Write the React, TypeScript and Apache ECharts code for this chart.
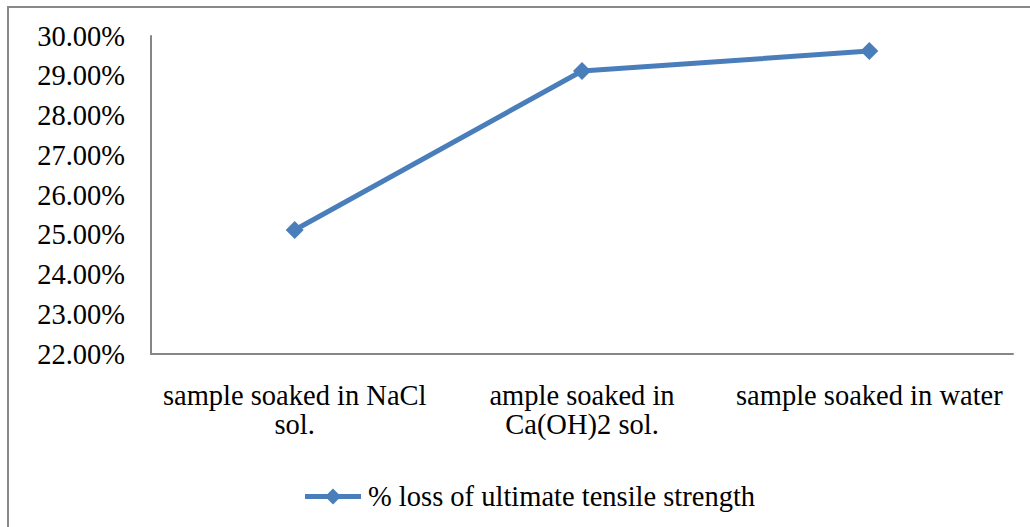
import React, { useEffect, useRef } from "react";
import * as echarts from "echarts";

const categories = [
  "sample soaked in NaCl\nsol.",
  "ample soaked in\nCa(OH)2 sol.",
  "sample soaked in water",
];
const seriesName = "% loss of ultimate tensile strength";
const values = [25.12, 29.12, 29.62];
const yMin = 22;
const yMax = 30;
const yStep = 1;

const FONT = "'Liberation Serif', 'Times New Roman', serif";
const FS = 28.5;
const LEGEND_ICON =
  "path://M0,5.5 L22.5,5.5 L28,0 L33.5,5.5 L56,5.5 L56,10.5 L33.5,10.5 L28,16 L22.5,10.5 L0,10.5 Z";

export default function App() {
  const ref = useRef<HTMLDivElement>(null);
  useEffect(() => {
    document.body.style.margin = "0";
    const chart = echarts.init(ref.current!, undefined, { renderer: "svg" });
    chart.setOption({
      animation: false,
      backgroundColor: "#ffffff",
      textStyle: { fontFamily: FONT },
      graphic: [
        {
          type: "rect",
          shape: { x: 8, y: 7, width: 1100, height: 600 },
          style: { fill: "none", stroke: "#898989", lineWidth: 2 },
          silent: true,
        },
      ],
      grid: { left: 151, right: 17, top: 36, bottom: 173, containLabel: false },
      xAxis: {
        type: "category",
        data: categories,
        boundaryGap: true,
        axisLine: { show: true, lineStyle: { color: "#868686", width: 2 } },
        axisTick: { show: false },
        axisLabel: {
          interval: 0,
          color: "#000",
          fontFamily: FONT,
          fontSize: FS,
          lineHeight: 29,
          margin: 27,
          align: "center",
        },
        splitLine: { show: false },
      },
      yAxis: {
        type: "value",
        min: yMin,
        max: yMax,
        interval: yStep,
        axisLine: { show: true, lineStyle: { color: "#868686", width: 2 } },
        axisTick: { show: false },
        splitLine: { show: false },
        axisLabel: {
          color: "#000",
          fontFamily: FONT,
          fontSize: FS,
          margin: 26,
          formatter: (v: number) => v.toFixed(2) + "%",
        },
      },
      legend: {
        show: true,
        left: 300,
        top: 477,
        itemWidth: 56,
        itemHeight: 16,
        itemGap: 10,
        textStyle: { fontFamily: FONT, fontSize: FS, color: "#000", padding: [0, 0, 0, 2] },
        data: [{ name: seriesName, icon: LEGEND_ICON }],
      },
      series: [
        {
          name: seriesName,
          type: "line",
          data: values,
          symbol: "diamond",
          symbolSize: 18,
          lineStyle: { color: "#4a7ebb", width: 5 },
          itemStyle: { color: "#4a7ebb" },
        },
      ],
    });
    return () => chart.dispose();
  }, []);
  return <div ref={ref} style={{ width: 1030, height: 527 }} />;
}
